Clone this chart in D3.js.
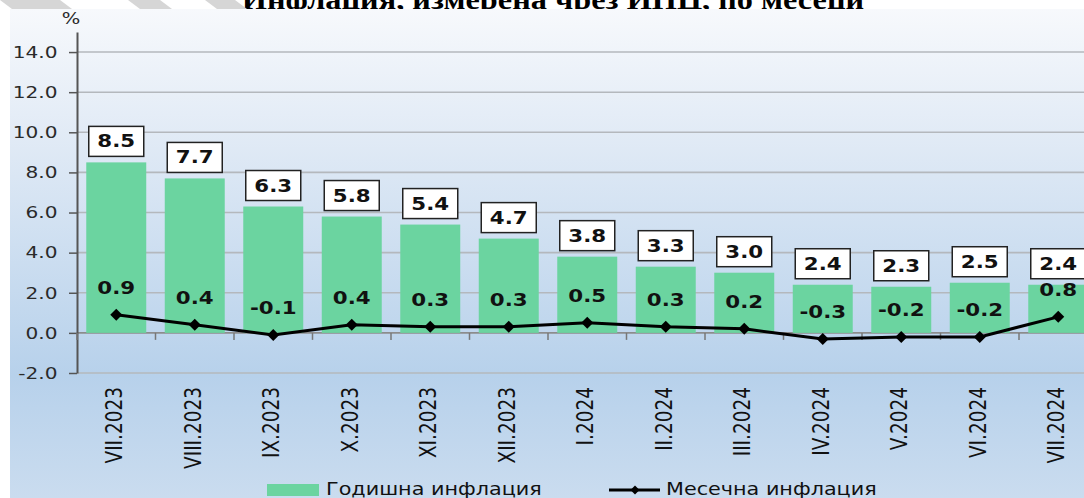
<!DOCTYPE html>
<html>
<head>
<meta charset="utf-8">
<script src="https://cdn.jsdelivr.net/npm/d3@7"></script>
<style>
  body { margin: 0; background: #fff; }
  svg { display: block; }
</style>
</head>
<body>
<div id="chart"></div>
<script>
// months
const months = ["VII.2023", "VIII.2023", "IX.2023", "X.2023", "XI.2023", "XII.2023",
  "I.2024", "II.2024", "III.2024", "IV.2024", "V.2024", "VI.2024", "VII.2024"];
// annual inflation (bars)
const annual = [8.5, 7.7, 6.3, 5.8, 5.4, 4.7, 3.8, 3.3, 3.0, 2.4, 2.3, 2.5, 2.4];
// monthly inflation (line)
const monthly = [0.9, 0.4, -0.1, 0.4, 0.3, 0.3, 0.5, 0.3, 0.2, -0.3, -0.2, -0.2, 0.8];
const yTicks = [-2, 0, 2, 4, 6, 8, 10, 12, 14];
const seriesNames = ["Годишна инфлация", "Месечна инфлация"];
const title = "Инфлация, измерена  чрез ИПЦ, по месеци";

const W = 1084, H = 498;
const stretch = 1.22; // the picture is a bit wider than tall
const font = "'DejaVu Sans', Verdana, sans-serif";
// plain hyphen for negatives, like the original
const fmt = d3.formatLocale({ decimal: ".", thousands: ",", grouping: [3], currency: ["", ""], minus: "-" }).format(".1f");

const svg = d3.select("#chart").append("svg")
  .attr("width", W).attr("height", H);

// title (bottom part only is visible)
svg.append("text")
  .attr("transform", `translate(553,9) scale(${stretch},1)`)
  .attr("text-anchor", "middle")
  .style("font-family", "'Liberation Serif', 'Times New Roman', serif")
  .style("font-weight", "bold")
  .style("font-size", "26.5px")
  .text(title);

// stray grey stripes at the top
[[0, 60], [128, 160], [205, 235]].forEach(s => {
  svg.append("path")
    .attr("d", `M${s[0]},0 L${s[1]},0 L${s[1] + 12},9 L${s[0] + 12},9 Z`)
    .attr("fill", "#d6d6d6");
});

// background gradient
const defs = svg.append("defs");
const grad = defs.append("linearGradient").attr("id", "bg")
  .attr("x1", 0).attr("y1", 0).attr("x2", 0).attr("y2", 1);
grad.append("stop").attr("offset", "0%").attr("stop-color", "#f7f9fc");
grad.append("stop").attr("offset", "25%").attr("stop-color", "#e2ebf6");
grad.append("stop").attr("offset", "75%").attr("stop-color", "#b7d1eb");
grad.append("stop").attr("offset", "100%").attr("stop-color", "#cadcef");

svg.append("rect")
  .attr("x", 10).attr("y", 9)
  .attr("width", W - 10).attr("height", H - 9)
  .attr("fill", "url(#bg)");

// scales
const x = d3.scaleBand()
  .domain(months)
  .range([77, 1097.5])
  .paddingInner(0.236)
  .paddingOuter(0.118);

const y = d3.scaleLinear()
  .domain([-2, 15])
  .range([373, 32]);

// grid lines
svg.append("g")
  .selectAll("line")
  .data(yTicks)
  .enter().append("line")
  .attr("x1", 77).attr("x2", W)
  .attr("y1", d => y(d)).attr("y2", d => y(d))
  .attr("stroke", d => d === 0 ? "#8c8c8c" : "#b4b8bd")
  .attr("stroke-width", 1.6);

// y axis
const yAxis = svg.append("g")
  .attr("transform", "translate(77,0)")
  .call(d3.axisLeft(y).tickValues(yTicks).tickFormat(fmt)
    .tickSize(8).tickSizeOuter(0).tickPadding(8));
yAxis.select(".domain").attr("stroke", "#555").attr("stroke-width", 2);
yAxis.selectAll(".tick line").attr("stroke", "#555").attr("stroke-width", 1.5);
yAxis.selectAll(".tick text")
  .attr("transform", `scale(${stretch},1)`)
  .style("font-family", font)
  .style("font-size", "16.5px")
  .attr("fill", "#2a2a2a");

// % label
svg.append("text")
  .attr("transform", `translate(71,24) scale(${stretch},1)`)
  .attr("text-anchor", "middle")
  .style("font-family", font)
  .style("font-size", "16px")
  .attr("fill", "#2a2a2a")
  .text("%");

// bars
svg.append("g")
  .selectAll("rect")
  .data(annual)
  .enter().append("rect")
  .attr("x", (d, i) => x(months[i]))
  .attr("y", d => y(d))
  .attr("width", x.bandwidth())
  .attr("height", d => y(0) - y(d))
  .attr("fill", "#6bd4a0");

// x axis ticks between categories
const step = x.step();
svg.append("g")
  .selectAll("line")
  .data(d3.range(months.length))
  .enter().append("line")
  .attr("x1", i => x.range()[0] + i * step)
  .attr("x2", i => x.range()[0] + i * step)
  .attr("y1", y(0)).attr("y2", y(0) + 7)
  .attr("stroke", "#777").attr("stroke-width", 1.5);

// x labels
svg.append("g")
  .selectAll("text")
  .data(months)
  .enter().append("text")
  .attr("transform", d => `translate(${x(d) + x.bandwidth() / 2 + 6},387) rotate(-90) scale(1,${stretch})`)
  .attr("text-anchor", "end")
  .style("font-family", font)
  .style("font-size", "18.5px")
  .attr("fill", "#111")
  .text(d => d);

// annual labels in boxes
const boxes = svg.append("g")
  .selectAll("g")
  .data(annual)
  .enter().append("g")
  .attr("transform", (d, i) => `translate(${x(months[i]) + x.bandwidth() / 2},${y(d) - 6})`);
boxes.append("rect")
  .attr("x", -27.5).attr("y", -30)
  .attr("width", 55).attr("height", 30)
  .attr("fill", "#fff")
  .attr("stroke", "#222").attr("stroke-width", 1.5);
boxes.append("text")
  .attr("transform", `translate(0,-9) scale(${stretch},1)`)
  .attr("text-anchor", "middle")
  .style("font-family", font)
  .style("font-weight", "bold")
  .style("font-size", "17.5px")
  .attr("fill", "#111")
  .text(d => fmt(d));

// monthly line
const cx = i => x(months[i]) + x.bandwidth() / 2;
const line = d3.line()
  .x((d, i) => cx(i))
  .y(d => y(d));
svg.append("path")
  .datum(monthly)
  .attr("d", line)
  .attr("fill", "none")
  .attr("stroke", "#000")
  .attr("stroke-width", 3);

const diamond = d3.symbol().type(d3.symbolSquare).size(72);
svg.append("g")
  .selectAll("path")
  .data(monthly)
  .enter().append("path")
  .attr("d", diamond)
  .attr("transform", (d, i) => `translate(${cx(i)},${y(d)}) rotate(45)`)
  .attr("fill", "#000");

svg.append("g")
  .selectAll("text")
  .data(monthly)
  .enter().append("text")
  .attr("transform", (d, i) => `translate(${cx(i)},${y(d) - 21}) scale(${stretch},1)`)
  .attr("text-anchor", "middle")
  .style("font-family", font)
  .style("font-weight", "bold")
  .style("font-size", "17.5px")
  .attr("fill", "#111")
  .text(d => fmt(d));

// legend
const legend = svg.append("g");
legend.append("rect")
  .attr("x", 267).attr("y", 484)
  .attr("width", 52).attr("height", 12)
  .attr("fill", "#6bd4a0");
legend.append("text")
  .attr("transform", `translate(326,495) scale(${stretch},1)`)
  .style("font-family", font)
  .style("font-size", "17px")
  .attr("fill", "#111")
  .text(seriesNames[0]);
legend.append("line")
  .attr("x1", 609).attr("x2", 660)
  .attr("y1", 490).attr("y2", 490)
  .attr("stroke", "#000").attr("stroke-width", 3);
legend.append("path")
  .attr("d", d3.symbol().type(d3.symbolSquare).size(40))
  .attr("transform", "translate(635,490) rotate(45)")
  .attr("fill", "#000");
legend.append("text")
  .attr("transform", `translate(666,495) scale(${stretch},1)`)
  .style("font-family", font)
  .style("font-size", "17px")
  .attr("fill", "#111")
  .text(seriesNames[1]);
</script>
</body>
</html>
